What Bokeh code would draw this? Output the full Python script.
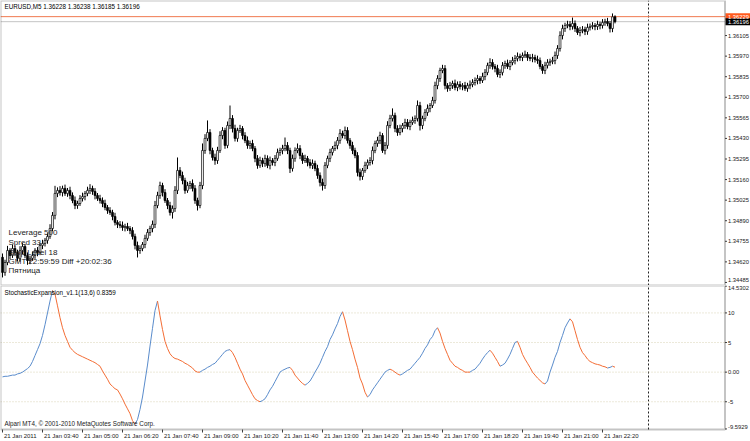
from bokeh.plotting import figure
from bokeh.layouts import column
from bokeh.models import Range1d, Label, BoxAnnotation, ColumnDataSource
from bokeh.core.properties import value
from bokeh.embed import file_html
from bokeh.resources import INLINE

symbol_title = "EURUSD,M5  1.36228 1.36238 1.36185 1.36196"
indicator_title = "StochasticExpansion_v1.1(13,6) 0.8359"
copyright_text = "Alpari MT4, \u00a9 2001-2010 MetaQuotes Software Corp."
info_lines = ["Leverage 500", "Spred 33", "Stop Level 18", "GMT 22:59:59 Diff +20:02:36", "\u041f\u044f\u0442\u043d\u0438\u0446\u0430"]

first_open = 1.34650
closes = [
    1.34551, 1.34616, 1.34695, 1.34662, 1.34708, 1.34682, 1.34643, 1.34695, 1.34721, 1.34662,
    1.34629, 1.34643, 1.34662, 1.34695, 1.34682, 1.34728, 1.34741, 1.34761, 1.34787, 1.34839,
    1.34925, 1.35069, 1.35089, 1.35075, 1.35102, 1.35069, 1.35089, 1.35056, 1.35023, 1.34990,
    1.35003, 1.35036, 1.35049, 1.35069, 1.35089, 1.35102, 1.35082, 1.35056, 1.35036, 1.35023,
    1.35003, 1.34977, 1.34957, 1.34944, 1.34918, 1.34879, 1.34866, 1.34859, 1.34846, 1.34852,
    1.34839, 1.34826, 1.34787, 1.34728, 1.34695, 1.34708, 1.34734, 1.34774, 1.34813, 1.34839,
    1.34866, 1.34990, 1.35056, 1.35121, 1.35075, 1.35023, 1.34990, 1.34944, 1.34970, 1.35089,
    1.35220, 1.35187, 1.35154, 1.35089, 1.35121, 1.35135, 1.35102, 1.35023, 1.34990, 1.35121,
    1.35351, 1.35430, 1.35469, 1.35351, 1.35305, 1.35285, 1.35351, 1.35449, 1.35482, 1.35384,
    1.35515, 1.35561, 1.35495, 1.35430, 1.35482, 1.35495, 1.35449, 1.35417, 1.35384, 1.35397,
    1.35364, 1.35299, 1.35253, 1.35285, 1.35266, 1.35299, 1.35253, 1.35285, 1.35272, 1.35299,
    1.35338, 1.35351, 1.35364, 1.35384, 1.35351, 1.35233, 1.35299, 1.35351, 1.35364, 1.35318,
    1.35285, 1.35299, 1.35272, 1.35253, 1.35266, 1.35233, 1.35187, 1.35141, 1.35121, 1.35253,
    1.35299, 1.35338, 1.35364, 1.35384, 1.35417, 1.35463, 1.35449, 1.35482, 1.35417, 1.35384,
    1.35351, 1.35318, 1.35207, 1.35180, 1.35220, 1.35253, 1.35272, 1.35285, 1.35351, 1.35397,
    1.35417, 1.35449, 1.35351, 1.35384, 1.35515, 1.35561, 1.35581, 1.35495, 1.35469, 1.35495,
    1.35515, 1.35535, 1.35508, 1.35535, 1.35548, 1.35561, 1.35646, 1.35515, 1.35561, 1.35600,
    1.35627, 1.35646, 1.35679, 1.35777, 1.35823, 1.35876, 1.35889, 1.35777, 1.35758, 1.35777,
    1.35791, 1.35764, 1.35784, 1.35771, 1.35777, 1.35758, 1.35777, 1.35784, 1.35797, 1.35810,
    1.35823, 1.35810, 1.35836, 1.35863, 1.35909, 1.35928, 1.35902, 1.35889, 1.35850, 1.35863,
    1.35909, 1.35922, 1.35902, 1.35928, 1.35941, 1.35955, 1.35968, 1.35961, 1.35974, 1.35981,
    1.35961, 1.35955, 1.35961, 1.35948, 1.35941, 1.35902, 1.35876, 1.35909, 1.35928, 1.35935,
    1.35941, 1.35974, 1.36020, 1.36105, 1.36151, 1.36171, 1.36178, 1.36164, 1.36184, 1.36151,
    1.36125, 1.36138, 1.36145, 1.36132, 1.36158, 1.36164, 1.36171, 1.36164, 1.36178, 1.36171,
    1.36191, 1.36197, 1.36184, 1.36151, 1.36228, 1.36196,
]
# wick lengths above / below the body, in points (0.00001)
hi_ext = [
    25, 18, 30, 15, 24, 20, 18, 28, 22, 16, 20, 18, 26, 15, 22, 18, 24, 16, 20, 28,
    22, 50, 20, 28, 18, 25, 16, 24, 20, 26, 18, 22, 25, 16, 24, 28, 18, 22, 16, 24,
    20, 25, 16, 22, 18, 24, 15, 22, 26, 18, 24, 16, 22, 18, 25, 20, 16, 24, 22, 18,
    25, 30, 24, 25, 18, 22, 16, 24, 20, 28, 85, 22, 25, 18, 24, 16, 26, 22, 18, 24,
    46, 28, 79, 22, 18, 25, 24, 28, 22, 18, 26, 85, 22, 25, 18, 24, 16, 22, 26, 18,
    24, 16, 22, 25, 18, 24, 20, 26, 16, 22, 25, 18, 24, 52, 22, 18, 25, 20, 33, 22,
    18, 24, 16, 22, 26, 18, 24, 20, 25, 22, 18, 24, 16, 26, 22, 28, 18, 26, 22, 16,
    24, 18, 22, 25, 16, 24, 20, 22, 26, 18, 24, 25, 16, 22, 28, 24, 46, 18, 22, 25,
    16, 24, 22, 18, 25, 20, 33, 24, 18, 22, 26, 16, 24, 25, 22, 18, 24, 22, 16, 24,
    18, 25, 20, 22, 16, 24, 18, 26, 22, 20, 24, 16, 25, 22, 18, 28, 22, 16, 24, 20,
    22, 18, 25, 16, 24, 22, 26, 18, 20, 25, 16, 22, 24, 18, 25, 20, 16, 24, 22, 18,
    24, 26, 22, 28, 25, 18, 24, 22, 39, 20, 16, 24, 22, 18, 25, 20, 22, 16, 24, 18,
    22, 18, 24, 16, 22, 10,
]
lo_ext = [
    33, 22, 18, 25, 16, 24, 20, 22, 26, 18, 28, 24, 16, 22, 25, 18, 24, 20, 22, 16,
    18, 26, 24, 20, 26, 16, 22, 25, 18, 24, 22, 16, 20, 25, 18, 24, 22, 26, 16, 20,
    24, 18, 22, 16, 25, 20, 24, 18, 22, 26, 16, 24, 20, 26, 46, 22, 18, 24, 16, 22,
    25, 24, 18, 22, 26, 16, 24, 20, 40, 22, 24, 18, 25, 22, 16, 24, 20, 22, 33, 18,
    24, 22, 18, 25, 20, 28, 22, 16, 24, 22, 18, 24, 26, 20, 22, 16, 25, 18, 22, 24,
    18, 25, 22, 16, 24, 22, 18, 26, 20, 24, 16, 22, 25, 18, 24, 30, 20, 22, 18, 24,
    22, 16, 25, 20, 24, 18, 22, 26, 33, 22, 18, 24, 20, 16, 25, 22, 18, 24, 20, 22,
    24, 18, 26, 26, 22, 16, 24, 20, 25, 18, 22, 24, 16, 26, 22, 18, 20, 24, 22, 18,
    25, 22, 18, 24, 16, 22, 20, 33, 24, 18, 22, 25, 16, 20, 24, 22, 18, 25, 22, 16,
    22, 18, 24, 20, 25, 16, 22, 24, 18, 20, 25, 22, 16, 24, 18, 22, 20, 25, 18, 24,
    20, 22, 16, 24, 18, 25, 20, 22, 24, 16, 22, 18, 25, 20, 22, 18, 22, 24, 20, 22,
    18, 24, 22, 20, 25, 22, 18, 24, 20, 22, 16, 25, 18, 24, 22, 20, 18, 24, 22, 25,
    20, 22, 18, 26, 24, 11,
]
stoch_exp = [
    -0.8, -0.7, -0.7, -0.6, -0.5, -0.5, -0.3, -0.2, 0.0, 0.3,
    0.6, 1.0, 1.8, 2.8, 3.8, 4.8, 6.2, 8.0, 10.0, 12.0,
    13.8, 13.2, 11.2, 9.2, 7.5, 6.2, 5.2, 4.2, 3.7, 3.3,
    3.0, 2.8, 2.6, 2.4, 2.2, 2.0, 1.8, 1.6, 1.3, 1.0,
    0.2, -0.5, -1.2, -2.0, -2.4, -2.8, -3.0, -3.7, -4.5, -5.4,
    -6.2, -7.0, -8.2, -8.8, -8.0, -6.3, -4.2, -1.5, 1.2, 4.4,
    7.4, 10.4, 12.0, 9.5, 7.2, 5.2, 4.0, 3.1, 2.6, 2.3,
    2.2, 2.0, 1.8, 1.5, 1.3, 1.0, 0.7, 0.2, 0.0, 0.0,
    0.3, 0.5, 0.8, 1.0, 1.3, 1.5, 2.0, 2.5, 3.0, 3.5,
    3.7, 3.8, 3.3, 2.5, 1.5, 0.5, -0.3, -1.4, -2.2, -3.0,
    -3.8, -4.5, -4.8, -5.0, -4.8, -4.5, -3.8, -3.0, -2.4, -1.6,
    -0.8, 0.0, 0.3, 0.5, 0.7, 0.8, 0.3, -0.5, -1.0, -1.5,
    -1.9, -2.2, -1.9, -1.5, -0.8, 0.0, 0.7, 1.5, 2.5, 3.5,
    4.3, 5.5, 6.3, 7.3, 8.2, 9.4, 10.2, 8.8, 7.0, 5.2,
    3.8, 2.2, 0.8, -1.0, -2.0, -3.4, -4.2, -3.8, -3.0, -2.4,
    -1.8, -1.2, -0.6, 0.0, 0.3, 0.5, 0.3, 0.0, -0.3, -0.5,
    -0.3, 0.0, 0.3, 0.5, 1.0, 1.5, 2.0, 2.5, 3.2, 4.0,
    4.6, 5.5, 6.0, 7.0, 7.5, 6.6, 5.2, 4.0, 3.0, 2.0,
    1.5, 1.0, 0.8, 0.5, 0.3, 0.0, 0.0, 0.0, 0.3, 0.5,
    1.0, 1.5, 2.2, 2.8, 3.3, 3.7, 3.2, 2.5, 1.8, 1.0,
    1.2, 1.5, 2.2, 3.0, 4.0, 5.0, 5.2, 4.2, 3.0, 2.2,
    1.5, 0.8, 0.0, -0.5, -1.0, -1.4, -1.8, -2.0, -1.5, 0.0,
    1.2, 2.5, 3.5, 5.0, 6.2, 7.5, 8.3, 9.0, 8.5, 7.0,
    5.5, 4.2, 3.3, 2.8, 2.2, 1.8, 1.6, 1.4, 1.3, 1.2,
    1.0, 0.9, 0.7, 0.8, 1.0, 0.8359,
]
time_labels = ["21 Jan 2011", "21 Jan 03:40", "21 Jan 05:00", "21 Jan 06:20", "21 Jan 07:40",
               "21 Jan 09:00", "21 Jan 10:20", "21 Jan 11:40", "21 Jan 13:00", "21 Jan 14:20",
               "21 Jan 15:40", "21 Jan 17:00", "21 Jan 18:20", "21 Jan 19:40", "21 Jan 21:00",
               "21 Jan 22:20"]
bars_per_label = 16
price_ticks = [1.34485, 1.34620, 1.34755, 1.34890, 1.35025, 1.35160, 1.35295,
               1.35430, 1.35565, 1.35700, 1.35835, 1.35970, 1.36105]
ind_ticks = [14.5302, 10, 5, 0, -5, -9.5929]
ind_tick_labels = ["14.5302", "10", "5", "0.00", "-5", "-9.5929"]
ind_levels = [10, 5, 0, -5]
ask_price = 1.36229
bid_price = 1.36196
separator_bar = 258.4

n = len(closes)
idx = list(range(n))
opens = [first_open] + closes[:-1]
highs = [max(o, c) + h * 1e-5 for o, c, h in zip(opens, closes, hi_ext)]
lows = [min(o, c) - l * 1e-5 for o, c, l in zip(opens, closes, lo_ext)]
tops = [max(o, c) for o, c in zip(opens, closes)]
bots = [min(o, c) for o, c in zip(opens, closes)]
fills = ["white" if c >= o else "black" for o, c in zip(opens, closes)]

FONT = "Liberation Sans"
SMALL = "6.3px"
AXFONT = "5.8px"
W = 750
PX_PER_BAR = 2.5
X0 = -0.8
X1 = X0 + W / PX_PER_BAR
AXIS_BAR = 289          # bar position of the right price scale
FRAME_C = "#3c3c3c"
xr = Range1d(X0, X1)

# indicator panel vertical geometry
P2_H = 156
IND_PLOT_H = 144
IND_PX_PER_UNIT = 5.922
IND_TOP = 14.6302
IND_BOTTOM = IND_TOP - IND_PLOT_H / IND_PX_PER_UNIT
IND_START = IND_TOP - P2_H / IND_PX_PER_UNIT

p1 = figure(width=W, height=285, x_range=xr, y_range=Range1d(1.34465, 1.36335),
            output_backend="svg", toolbar_location=None, x_axis_location=None,
            y_axis_location=None, min_border=0)
p2 = figure(width=W, height=P2_H, x_range=xr, y_range=Range1d(IND_START, IND_TOP),
            output_backend="svg", toolbar_location=None, x_axis_location=None,
            y_axis_location=None, min_border=0)

for p in (p1, p2):
    p.background_fill_color = "white"
    p.border_fill_color = "white"
    p.outline_line_color = None
    p.xgrid.visible = False
    p.ygrid.visible = False

p1.add_layout(BoxAnnotation(right=AXIS_BAR, fill_alpha=0, line_color=FRAME_C, line_width=2))
p2.add_layout(BoxAnnotation(right=AXIS_BAR, bottom=IND_BOTTOM, fill_alpha=0,
                            line_color=FRAME_C, line_width=2))
p1.segment(x0=[separator_bar], x1=[separator_bar], y0=[1.34465], y1=[1.36335],
           line_color="#202020", line_width=1, line_dash="2 2")
p2.segment(x0=[separator_bar], x1=[separator_bar], y0=[IND_BOTTOM], y1=[IND_TOP],
           line_color="#202020", line_width=1, line_dash="2 2")

def right_scale(p, ticks, labels, baselines):
    p.segment(x0=[AXIS_BAR] * len(ticks), x1=[AXIS_BAR + 0.8] * len(ticks), y0=ticks, y1=ticks,
              line_color=FRAME_C, line_width=1)
    for base in sorted(set(baselines)):
        sel = [i for i, b in enumerate(baselines) if b == base]
        p.text(x=[AXIS_BAR] * len(sel), y=[ticks[i] for i in sel], text=[labels[i] for i in sel],
               x_offset=3, text_font=value(FONT), text_font_size=value(AXFONT),
               text_color="#1a1a1a", text_baseline=base, text_align="left")

# ---- price panel
p1.segment(x0=[X0, X0], x1=[AXIS_BAR, AXIS_BAR], y0=[ask_price, bid_price], y1=[ask_price, bid_price],
           line_color=["#f07a50", "#c4c4c4"], line_width=1)
src = ColumnDataSource(dict(x=idx, hi=highs, lo=lows, top=tops, bot=bots, fill=fills))
p1.segment(x0="x", y0="lo", x1="x", y1="hi", source=src, line_color="black", line_width=1)
p1.vbar(x="x", top="top", bottom="bot", width=0.75, source=src, fill_color="fill",
        line_color="black", line_width=0.7)
right_scale(p1, price_ticks, ["%.5f" % t for t in price_ticks],
            ["bottom"] + ["middle"] * (len(price_ticks) - 1))

box_x = AXIS_BAR + 13 / PX_PER_BAR
p1.rect(x=[box_x, box_x], y=[ask_price, bid_price], width=25, height=7,
        width_units="screen", height_units="screen",
        fill_color=["#ff5a1e", "black"], line_color=None)
p1.text(x=[AXIS_BAR, AXIS_BAR], y=[ask_price, bid_price], text=["%.5f" % ask_price, "%.5f" % bid_price],
        x_offset=3, text_font=value(FONT), text_font_size=value(AXFONT), text_color="white",
        text_baseline="middle", text_align="left")

p1.add_layout(Label(x=X0, y=1.36335, x_offset=4, y_offset=-2, text=symbol_title,
                    text_font=FONT, text_font_size=SMALL, text_color="black",
                    text_baseline="top"))
info_offsets = [53, 43, 33.5, 24, 15]
for t, off in zip(info_lines, info_offsets):
    p1.add_layout(Label(x=X0, y=1.34465, x_offset=8, y_offset=off, text=t,
                        text_font=FONT, text_font_size="8px", text_color="#222222",
                        text_baseline="middle"))

# ---- indicator panel
p2.segment(x0=[X0] * len(ind_levels), x1=[AXIS_BAR] * len(ind_levels), y0=ind_levels, y1=ind_levels,
           line_color="#d8d2b4", line_width=1, line_dash="1 2")

seg_x0, seg_x1, seg_y0, seg_y1, seg_c = [], [], [], [], []
rising = False
for i in range(n - 1):
    if stoch_exp[i + 1] > stoch_exp[i]:
        rising = True
    elif stoch_exp[i + 1] < stoch_exp[i]:
        rising = False
    seg_x0.append(i); seg_x1.append(i + 1)
    seg_y0.append(stoch_exp[i]); seg_y1.append(stoch_exp[i + 1])
    seg_c.append("#5a8ccc" if rising else "#f46d35")
p2.segment(x0=seg_x0, y0=seg_y0, x1=seg_x1, y1=seg_y1, line_color=seg_c, line_width=1)

right_scale(p2, ind_ticks, ind_tick_labels,
            ["top", "middle", "middle", "middle", "middle", "bottom"])

# time scale under the indicator panel
tick_x = [k * bars_per_label for k in range(len(time_labels))]
tick_len = 3 / IND_PX_PER_UNIT
p2.segment(x0=tick_x, x1=tick_x, y0=[IND_BOTTOM] * len(tick_x), y1=[IND_BOTTOM - tick_len] * len(tick_x),
           line_color=FRAME_C, line_width=1)
p2.text(x=tick_x, y=[IND_BOTTOM - 6.5 / IND_PX_PER_UNIT] * len(tick_x), text=time_labels,
        x_offset=1.5, text_font=value(FONT), text_font_size=value("6px"), text_color="#1a1a1a",
        text_baseline="middle", text_align="left")

p2.add_layout(Label(x=X0, y=IND_TOP, x_offset=4, y_offset=-3, text=indicator_title,
                    text_font=FONT, text_font_size=SMALL, text_color="black",
                    text_baseline="top"))
p2.add_layout(Label(x=X0, y=IND_BOTTOM, x_offset=4, y_offset=3, text=copyright_text,
                    text_font=FONT, text_font_size=SMALL, text_color="#222222",
                    text_baseline="bottom"))

layout = column(p1, p2, spacing=0)
open("out.html", "w").write(file_html(layout, INLINE))
